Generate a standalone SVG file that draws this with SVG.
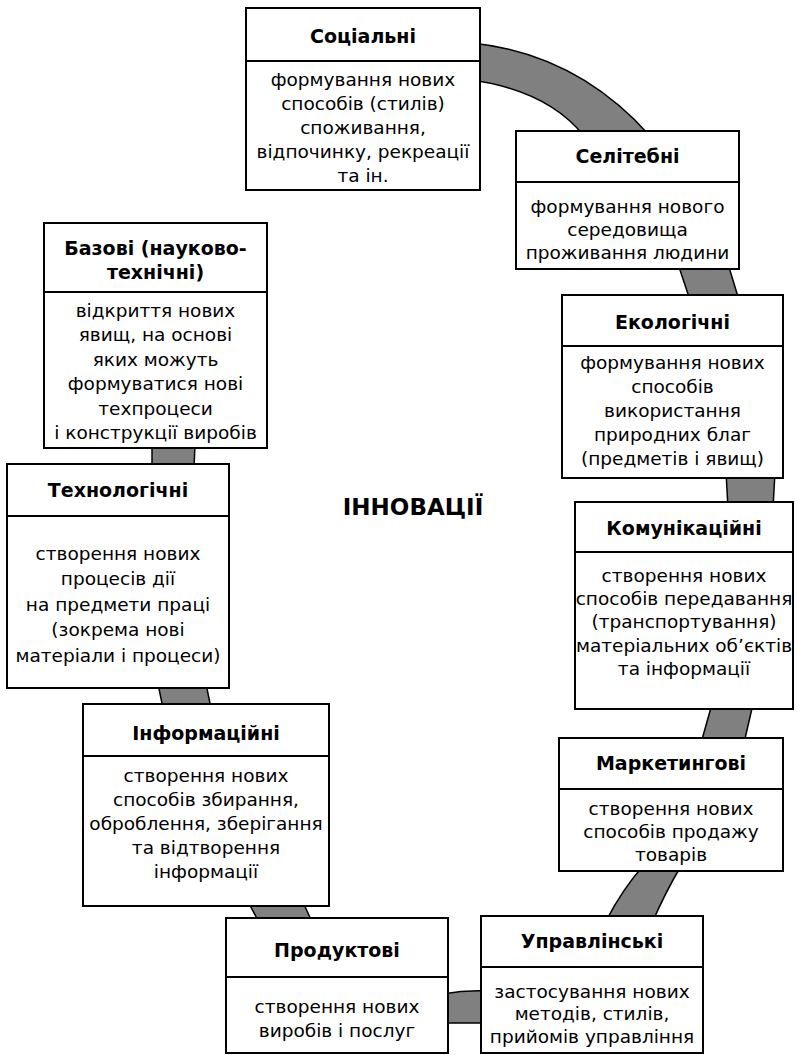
<svg xmlns="http://www.w3.org/2000/svg" width="797" height="1055" viewBox="0 0 797 1055">
<style>
.box{fill:#fff;stroke:#000;stroke-width:2}
.div{stroke:#000;stroke-width:2}
.band{fill:#808080;stroke:#000;stroke-width:1.5;stroke-linejoin:round}
text{font-family:"DejaVu Sans","Noto Sans",sans-serif;font-size:18.5px;text-anchor:middle;fill:#000}
.t{font-weight:bold;font-size:19px}
.big{font-weight:bold;font-size:23px}
</style>
<rect width="797" height="1055" fill="#fff"/>
<g id="connectors">
<path class="band" d="M472,43 Q577,54 650,136 L584,136 Q548,91 472,80 Z"/>
<polygon class="band" points="678,264 728,264 739,300 690,300"/>
<polygon class="band" points="726,472 775,472 773,508 728,508"/>
<polygon class="band" points="712,704 753,704 744,743 701,743"/>
<path class="band" d="M643,866 L681,866 Q665,893 653,921 L606,921 Q622,890 643,866 Z"/>
<path class="band" d="M443,994 Q465,990 487,991 L487,1023 L443,1023 Z"/>
<polygon class="band" points="247,900 302,900 313,924 260,924"/>
<polygon class="band" points="158,684 206,684 211,708 163,708"/>
<polygon class="band" points="152,444 195,444 194,468 152,468"/>
</g>
<g id="n-social">
<rect class="box" x="246" y="8" width="234" height="182"/>
<line class="div" x1="246" y1="61" x2="480" y2="61"/>
<text class="t" x="363" y="43">Соціальні</text>
<text x="363" y="86">формування нових</text>
<text x="363" y="110">способів (стилів)</text>
<text x="363" y="134">споживання,</text>
<text x="363" y="158">відпочинку, рекреації</text>
<text x="363" y="182">та ін.</text>
</g>
<g id="n-selit">
<rect class="box" x="516" y="131" width="223" height="138"/>
<line class="div" x1="516" y1="182" x2="739" y2="182"/>
<text class="t" x="627.5" y="163">Селітебні</text>
<text x="627.5" y="213">формування нового</text>
<text x="627.5" y="236">середовища</text>
<text x="627.5" y="259">проживання людини</text>
</g>
<g id="n-eco">
<rect class="box" x="562" y="295" width="221" height="183"/>
<line class="div" x1="562" y1="346" x2="783" y2="346"/>
<text class="t" x="672.5" y="329">Екологічні</text>
<text x="672.5" y="369">формування нових</text>
<text x="672.5" y="393">способів</text>
<text x="672.5" y="417">використання</text>
<text x="672.5" y="441">природних благ</text>
<text x="672.5" y="465">(предметів і явищ)</text>
</g>
<g id="n-base">
<rect class="box" x="44" y="223" width="223" height="225"/>
<line class="div" x1="44" y1="292" x2="267" y2="292"/>
<text class="t" x="155.5" y="255">Базові (науково-</text>
<text class="t" x="155.5" y="279">технічні)</text>
<text x="155.5" y="317">відкриття нових</text>
<text x="155.5" y="341">явищ, на основі</text>
<text x="155.5" y="366">яких можуть</text>
<text x="155.5" y="390">формуватися нові</text>
<text x="155.5" y="415">техпроцеси</text>
<text x="155.5" y="439">і конструкції виробів</text>
</g>
<g id="n-tech">
<rect class="box" x="7" y="464" width="222" height="224"/>
<line class="div" x1="7" y1="516" x2="229" y2="516"/>
<text class="t" x="118" y="497">Технологічні</text>
<text x="118" y="560">створення нових</text>
<text x="118" y="585">процесів дії</text>
<text x="118" y="611">на предмети праці</text>
<text x="118" y="636">(зокрема нові</text>
<text x="118" y="662">матеріали і процеси)</text>
</g>
<g id="n-comm">
<rect class="box" x="575" y="502" width="218" height="207"/>
<line class="div" x1="575" y1="552" x2="793" y2="552"/>
<text class="t" x="684" y="535">Комунікаційні</text>
<text x="684" y="582">створення нових</text>
<text x="684" y="605">способів передавання</text>
<text x="684" y="628">(транспортування)</text>
<text x="684" y="652">матеріальних об’єктів</text>
<text x="684" y="675">та інформації</text>
</g>
<g id="n-market">
<rect class="box" x="559" y="738" width="224" height="133"/>
<line class="div" x1="559" y1="789" x2="783" y2="789"/>
<text class="t" x="671" y="770">Маркетингові</text>
<text x="671" y="815">створення нових</text>
<text x="671" y="838">способів продажу</text>
<text x="671" y="861">товарів</text>
</g>
<g id="n-manage">
<rect class="box" x="481" y="916" width="222" height="137"/>
<line class="div" x1="481" y1="967" x2="703" y2="967"/>
<text class="t" x="592" y="948">Управлінські</text>
<text x="592" y="998">застосування нових</text>
<text x="592" y="1020">методів, стилів,</text>
<text x="592" y="1043">прийомів управління</text>
</g>
<g id="n-info">
<rect class="box" x="83" y="704" width="246" height="202"/>
<line class="div" x1="83" y1="756" x2="329" y2="756"/>
<text class="t" x="206" y="740">Інформаційні</text>
<text x="206" y="782">створення нових</text>
<text x="206" y="806">способів збирання,</text>
<text x="206" y="830">оброблення, зберігання</text>
<text x="206" y="854">та відтворення</text>
<text x="206" y="878">інформації</text>
</g>
<g id="n-product">
<rect class="box" x="226" y="918" width="222" height="135"/>
<line class="div" x1="226" y1="977" x2="448" y2="977"/>
<text class="t" x="337" y="957">Продуктові</text>
<text x="337" y="1013">створення нових</text>
<text x="337" y="1037">виробів і послуг</text>
</g>
<g id="center">
<text class="big" x="413" y="515">ІННОВАЦІЇ</text>
</g>
</svg>
